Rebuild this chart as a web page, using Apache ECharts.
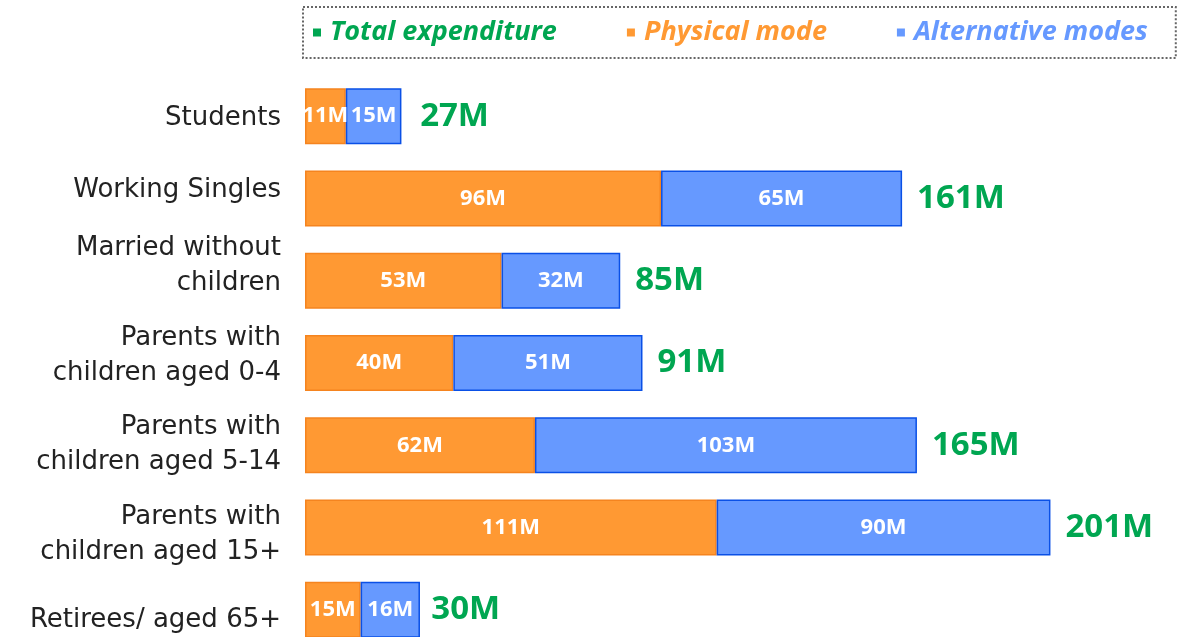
<!DOCTYPE html>
<html>
<head>
<meta charset="utf-8">
<script src="https://cdn.jsdelivr.net/npm/echarts@6/dist/echarts.min.js"></script>
<style>
  html, body { margin: 0; padding: 0; background: #fff; }
  #chart { width: 1180px; height: 637px; }
</style>
</head>
<body>
<div id="chart"></div>
<script>
// 数据
const categories = [
  'Students',
  'Working Singles',
  'Married without\nchildren',
  'Parents with\nchildren aged 0-4',
  'Parents with\nchildren aged 5-14',
  'Parents with\nchildren aged 15+',
  'Retirees/ aged 65+'
]
const physicalMode = [11, 96, 53, 40, 62, 111, 15]
const alternativeModes = [15, 65, 32, 51, 103, 90, 16]
const totalExpenditure = [27, 161, 85, 91, 165, 201, 30]

// 标签上下偏移 (px, 负数向上)
const labelShift = [2, -8, -15, -7, -1, 7, 10]

const colors = {
  total: '#00A651',
  physical: '#FF9933',
  physicalBorder: '#F5841F',
  alternative: '#6699FF',
  alternativeBorder: '#0A50E6'
}

const chart = echarts.init(document.getElementById('chart'))

const innerLabel = {
  show: true,
  position: 'inside',
  color: '#fff',
  fontFamily: 'Open Sans',
  fontWeight: 'bold',
  fontSize: 22,
  formatter: p => p.value + 'M'
}

// 用空行把标签推上/推下
let spacerRich = {}
labelShift.forEach((s, i) => {
  spacerRich['g' + i] = { fontSize: 1, lineHeight: Math.max(2 * Math.abs(s), 1), height: Math.max(2 * Math.abs(s), 1) }
})

const option = {
  animation: false,
  legend: {
    left: 303,
    top: 7,
    width: 850,
    itemWidth: 8,
    itemHeight: 8,
    itemGap: 70,
    padding: [12, 28, 12, 10],
    borderType: 'dotted',
    borderWidth: 2,
    borderColor: '#666',
    icon: 'rect',
    textStyle: {
      fontFamily: 'Open Sans',
      fontStyle: 'italic',
      fontWeight: 'bold',
      fontSize: 27,
      padding: [0, 0, 0, 4]
    },
    data: [
      { name: 'Total expenditure', itemStyle: { color: colors.total, borderWidth: 0 }, textStyle: { color: colors.total } },
      { name: 'Physical mode', itemStyle: { color: colors.physical, borderWidth: 0 }, textStyle: { color: colors.physical } },
      { name: 'Alternative modes', itemStyle: { color: colors.alternative, borderWidth: 0 }, textStyle: { color: colors.alternative } }
    ]
  },
  grid: {
    left: 305,
    right: 22,
    top: 75,
    height: 576,
    containLabel: false,
    outerBoundsMode: 'none'
  },
  xAxis: {
    type: 'value',
    min: 0,
    max: 230,
    show: false
  },
  yAxis: {
    type: 'category',
    inverse: true,
    data: categories,
    axisLine: { show: false },
    axisTick: { show: false },
    axisLabel: {
      margin: 24,
      color: '#222',
      fontFamily: 'DejaVu Sans',
      fontSize: 26,
      lineHeight: 35,
      formatter: (value, index) => {
        let s = labelShift[index]
        if (!s) return value
        let sp = '{g' + index + '| }'
        return s < 0 ? value + '\n' + sp : sp + '\n' + value
      },
      rich: spacerRich
    }
  },
  series: [
    {
      name: 'Total expenditure',
      type: 'bar',
      data: totalExpenditure,
      barWidth: 56,
      barGap: '-100%',
      silent: true,
      z: 1,
      itemStyle: { color: 'rgba(0,0,0,0)' },
      label: {
        show: true,
        position: 'right',
        distance: 15,
        color: colors.total,
        fontFamily: 'Open Sans',
        fontWeight: 'bold',
        fontSize: 33,
        formatter: p => p.value + 'M'
      }
    },
    {
      name: 'Physical mode',
      type: 'bar',
      stack: 'modes',
      data: physicalMode,
      barWidth: 56,
      z: 3,
      itemStyle: {
        color: colors.physical,
        borderColor: colors.physicalBorder,
        borderWidth: 1.5
      },
      label: innerLabel
    },
    {
      name: 'Alternative modes',
      type: 'bar',
      stack: 'modes',
      data: alternativeModes,
      barWidth: 56,
      z: 3,
      itemStyle: {
        color: colors.alternative,
        borderColor: colors.alternativeBorder,
        borderWidth: 1.5
      },
      label: innerLabel
    }
  ]
}

chart.setOption(option)
</script>
</body>
</html>
